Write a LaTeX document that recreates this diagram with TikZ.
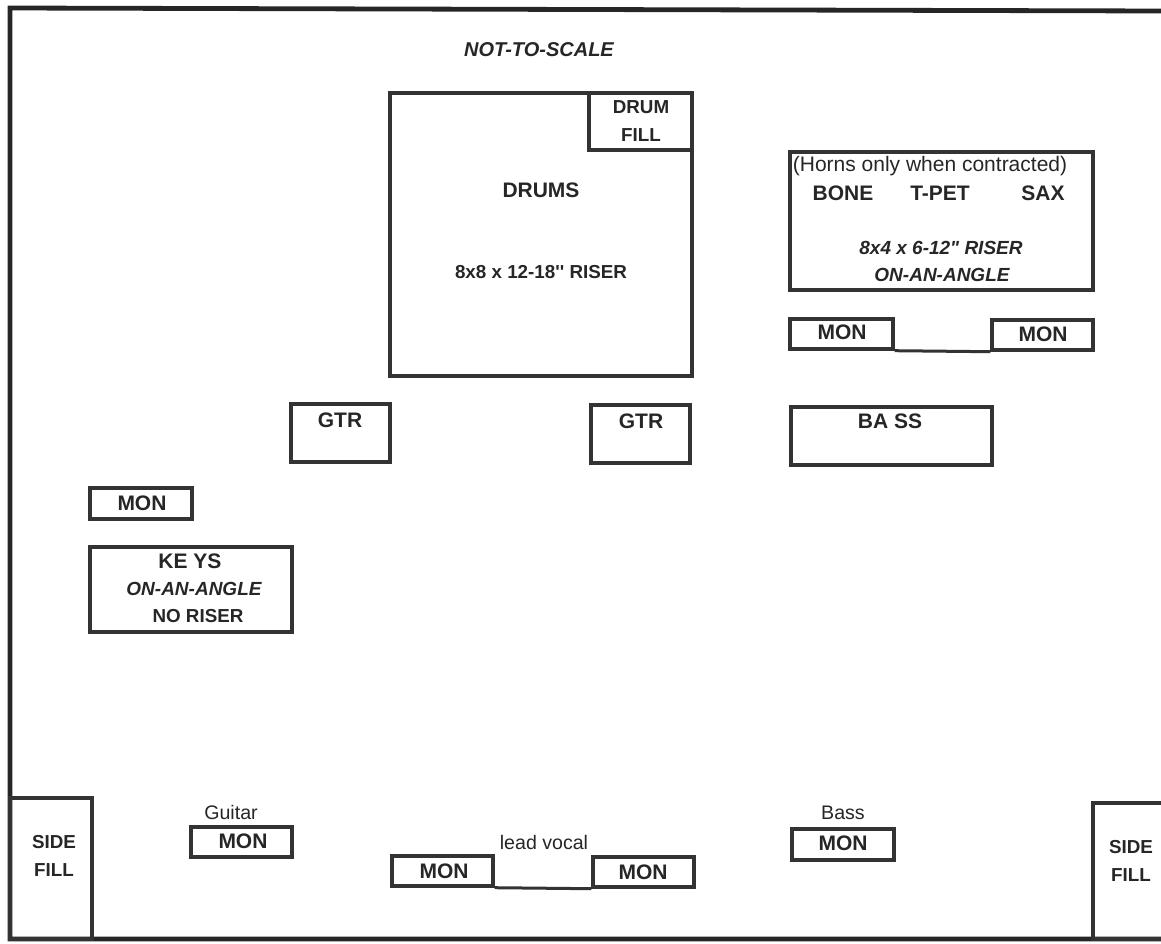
\documentclass[tikz,border=0pt]{standalone}
\usepackage{fontspec}
\setmainfont{Liberation Sans}[Ligatures=TeXOff]
\usetikzlibrary{fit}
\tikzset{
  stage_frame/.style={draw=black!85, line width=2.4pt, line join=miter},
  gear_box/.style={rectangle, draw=black!80, line width=1.7pt, inner sep=0pt},
  mon_link/.style={-, draw=black!80, line width=1.5pt},
  txt/.style={inner sep=0pt, text=black!85, align=center},
  bold_lbl/.style={txt, font=\fontsize{10.5}{13.5}\selectfont\bfseries},
  small_lbl/.style={txt, font=\fontsize{9.4}{13.8}\selectfont\bfseries},
  ital_lbl/.style={txt, font=\fontsize{9.5}{13.5}\selectfont\bfseries\itshape},
  title_lbl/.style={txt, font=\fontsize{10}{12}\selectfont\bfseries\itshape},
  plain_lbl/.style={txt, font=\fontsize{9.8}{12}\selectfont},
  note_lbl/.style={txt, font=\fontsize{10.5}{13}\selectfont}
}

\begin{document}
\begin{tikzpicture}[x=0.5pt, y=-0.5pt]
\useasboundingbox (0,0) rectangle (1161,943);

% Stage outline
\draw [stage_frame] (1165,11) -- (10,8) -- (10,939) -- (1165,939);
\node (nts) [title_lbl] at (539,50) {NOT-TO-SCALE};

% Drums
\node (drums) [gear_box, fit={(390,93) (692,376)}] {};
\node (drumfill) [gear_box, fit={(589,93) (692,150)}] {};
\node (drumfilltxt) [small_lbl] at (641,121) {DRUM\\FILL};
\node (drumstxt) [bold_lbl] at (541,190) {DRUMS};
\node (drumriser) [small_lbl] at (541,272) {8x8 x 12-18'' RISER};

% Horns
\node (horns) [gear_box, fit={(790,152) (1093,290)}] {};
\node (hornnote) [note_lbl] at (930,166) {(Horns only when contracted)};
\node (bone) [bold_lbl] at (843,193) {BONE};
\node (tpet) [bold_lbl] at (940,193) {T-PET};
\node (sax) [bold_lbl] at (1043,193) {SAX};
\node (hornriser) [ital_lbl] at (941,248) {8x4 x 6-12" RISER};
\node (hornangle) [ital_lbl] at (942,275) {ON-AN-ANGLE};

\node (monHL) [gear_box, fit={(790,319) (893,349)}] {};
\node (monHR) [gear_box, fit={(992,320) (1093,350)}] {};
\node (monHLtxt) [bold_lbl] at (842,332) {MON};
\node (monHRtxt) [bold_lbl] at (1043,334) {MON};
\draw [mon_link] (monHL.south east) -- (monHR.south west);

% Amps
\node (gtrA) [gear_box, fit={(291,404) (390,462)}] {};
\node (gtrB) [gear_box, fit={(591,405) (690,463)}] {};
\node (bassamp) [gear_box, fit={(791,407) (992,465)}] {};
\node (gtrAtxt) [bold_lbl] at (340,420) {GTR};
\node (gtrBtxt) [bold_lbl] at (641,421) {GTR};
\node (bassamptxt) [bold_lbl] at (890,421) {BA SS};

% Keys
\node (monK) [gear_box, fit={(90,488) (192,519)}] {};
\node (monKtxt) [bold_lbl] at (142,503) {MON};
\node (keys) [gear_box, fit={(90,547) (292,632)}] {};
\node (keystxt) [bold_lbl] at (190,561) {KE YS};
\node (keysangle) [ital_lbl] at (194,589) {ON-AN-ANGLE};
\node (keysriser) [small_lbl] at (198,616) {NO RISER};

% Side fills
\node (sideL) [gear_box, fit={(10,798) (92,939)}] {};
\node (sideLtxt) [small_lbl] at (54,856) {SIDE\\FILL};
\node (sideR) [gear_box, fit={(1093,803) (1180,939)}] {};
\node (sideRtxt) [small_lbl] at (1131,861) {SIDE\\FILL};

% Front wedges
\node (monG) [gear_box, fit={(191,827) (292,857)}] {};
\node (monGtxt) [bold_lbl] at (243,841) {MON};
\node (guitarlbl) [plain_lbl] at (231,812) {Guitar};

\node (monVL) [gear_box, fit={(392,856) (493,886)}] {};
\node (monVR) [gear_box, fit={(593,857) (694,887)}] {};
\node (monVLtxt) [bold_lbl] at (444,871) {MON};
\node (monVRtxt) [bold_lbl] at (643,872) {MON};
\node (vocallbl) [plain_lbl] at (544,842) {lead vocal};
\draw [mon_link] (monVL.south east) -- (monVR.south west);

\node (monB) [gear_box, fit={(792,829) (894,860)}] {};
\node (monBtxt) [bold_lbl] at (843,843) {MON};
\node (basslbl) [plain_lbl] at (843,813) {Bass};
\end{tikzpicture}
\end{document}
